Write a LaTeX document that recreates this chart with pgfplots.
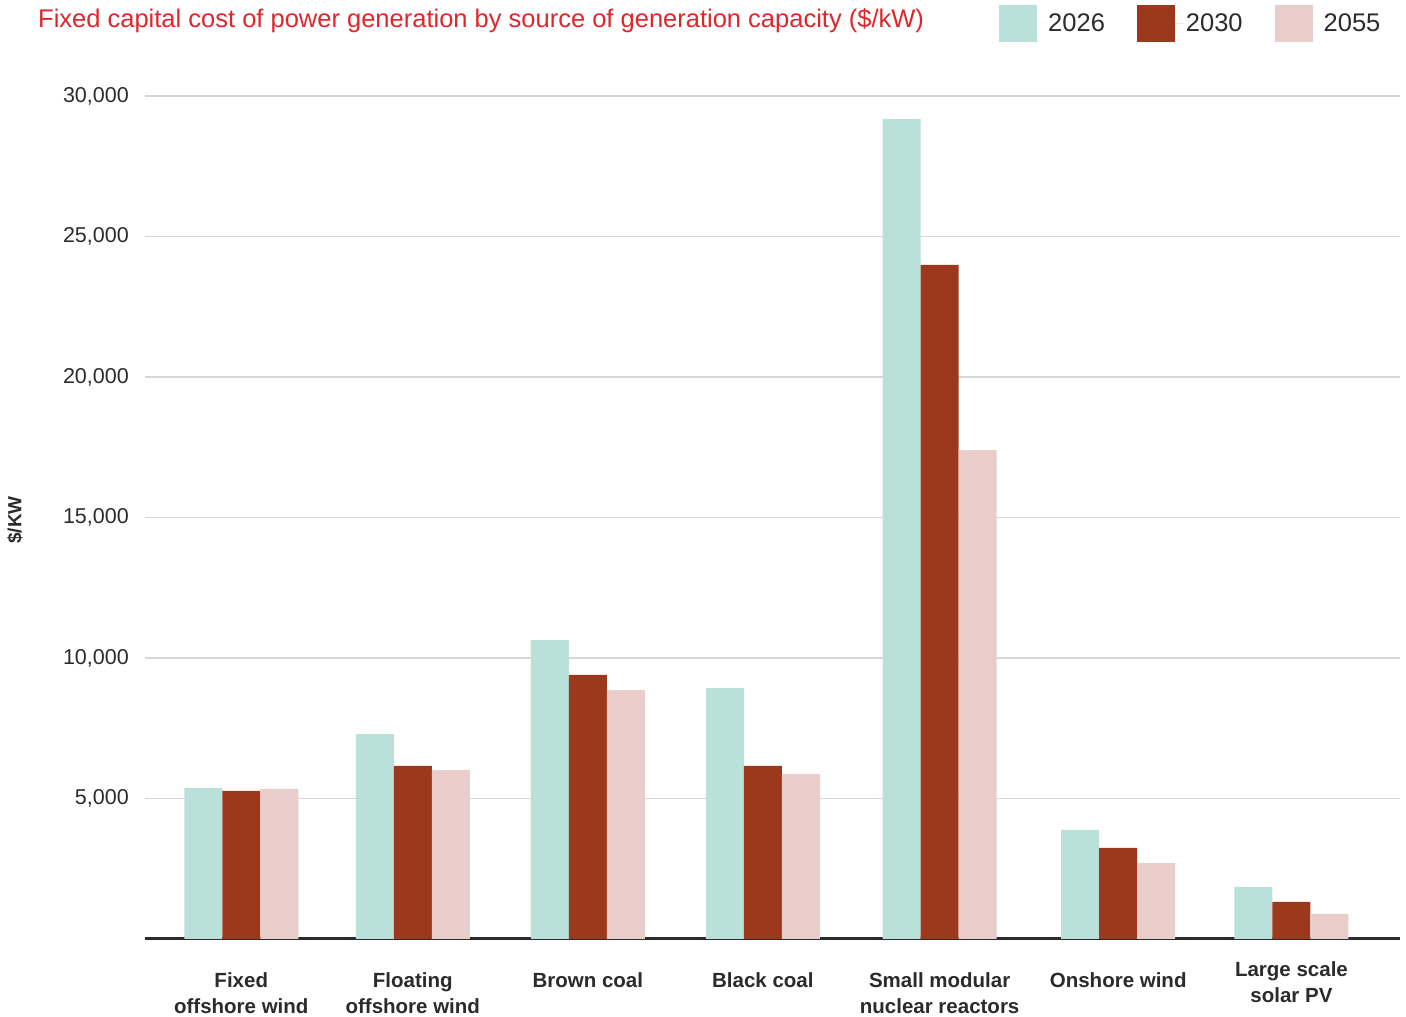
\documentclass[border=0pt]{standalone}
\usepackage{fontspec}
\setmainfont{Liberation Sans}
\usepackage{pgfplots}
\pgfplotsset{compat=1.18}
\definecolor{c26}{HTML}{B9E1DA}
\definecolor{c30}{HTML}{9C381B}
\definecolor{c55}{HTML}{E8CDCA}
\definecolor{gridc}{HTML}{D6D6D6}
\definecolor{titlered}{HTML}{E0262D}
\definecolor{txt}{HTML}{2B2B2B}
\begin{document}
\begin{tikzpicture}
\useasboundingbox (0,0) rectangle (1406pt,1017pt);
\node[anchor=west, text=titlered, font=\fontsize{25.5}{30}\selectfont, inner sep=0pt] at (38pt,996pt) {Fixed capital cost of power generation by source of generation capacity (\$/kW)};
\begin{axis}[
  at={(145pt,78pt)}, anchor=south west,
  scale only axis, width=1255pt, height=843pt,
  ybar=0pt, bar width=38pt,
  xmin=-0.55, xmax=6.62, ymin=0, ymax=30000,
  xtick={0,0.98,1.98,2.98,3.99,5.01},
  xticklabels={{Fixed\\offshore wind},{Floating\\offshore wind},{Brown coal},{Black coal},{Small modular\\nuclear reactors},{Onshore wind}},
  extra x ticks={6},
  extra x tick labels={{Large scale\\solar PV}},
  extra x tick style={xticklabel style={yshift=11pt}},
  ytick={5000,10000,...,30000},
  scaled y ticks=false,
  ymajorgrids, grid style={gridc, line width=1.2pt},
  axis x line*=bottom, axis y line*=left,
  y axis line style={draw=none},
  x axis line style={draw=txt, line width=3pt, -},
  major tick length=0pt, tick style={draw=none},
  yticklabel style={font=\fontsize{21.5}{25}\selectfont, text=txt, inner sep=0pt, xshift=-16pt, /pgf/number format/1000 sep={,}, /pgf/number format/assume math mode=true},
  xticklabel style={font=\bfseries\fontsize{20.5}{26}\selectfont, align=center, anchor=north, inner sep=0pt, yshift=-33pt, text=txt},
  ylabel={\$/KW},
  ylabel style={at={(rel axis cs:-0.1036,0.497)}, anchor=center, font=\bfseries\fontsize{19}{23}\selectfont, text=txt},
  legend style={draw=none, fill=none, legend columns=3, at={(rel axis cs:0.6805,1.086)}, anchor=west, font=\fontsize{25.5}{30}\selectfont, /tikz/every even column/.append style={column sep=30pt}, inner sep=0pt, text=txt},
  legend cell align=left,
]
\addplot[fill=c26, draw=none, legend image code/.code={\fill[c26] (0pt,-18.5pt) rectangle (38pt,18.5pt); \path (38pt,0pt) -- (47pt,0pt);}] coordinates {(0,5370) (0.98,7290) (1.98,10640) (2.98,8930) (3.99,29180) (5.01,3880) (6,1850)};
\addplot[fill=c30, draw=none, legend image code/.code={\fill[c30] (0pt,-18.5pt) rectangle (38pt,18.5pt); \path (38pt,0pt) -- (47pt,0pt);}] coordinates {(0,5270) (0.98,6160) (1.98,9400) (2.98,6160) (3.99,23990) (5.01,3240) (6,1320)};
\addplot[fill=c55, draw=none, legend image code/.code={\fill[c55] (0pt,-18.5pt) rectangle (38pt,18.5pt); \path (38pt,0pt) -- (47pt,0pt);}] coordinates {(0,5340) (0.98,6010) (1.98,8860) (2.98,5870) (3.99,17400) (5.01,2700) (6,890)};
\legend{2026,2030,2055}
\end{axis}
\end{tikzpicture}
\end{document}
